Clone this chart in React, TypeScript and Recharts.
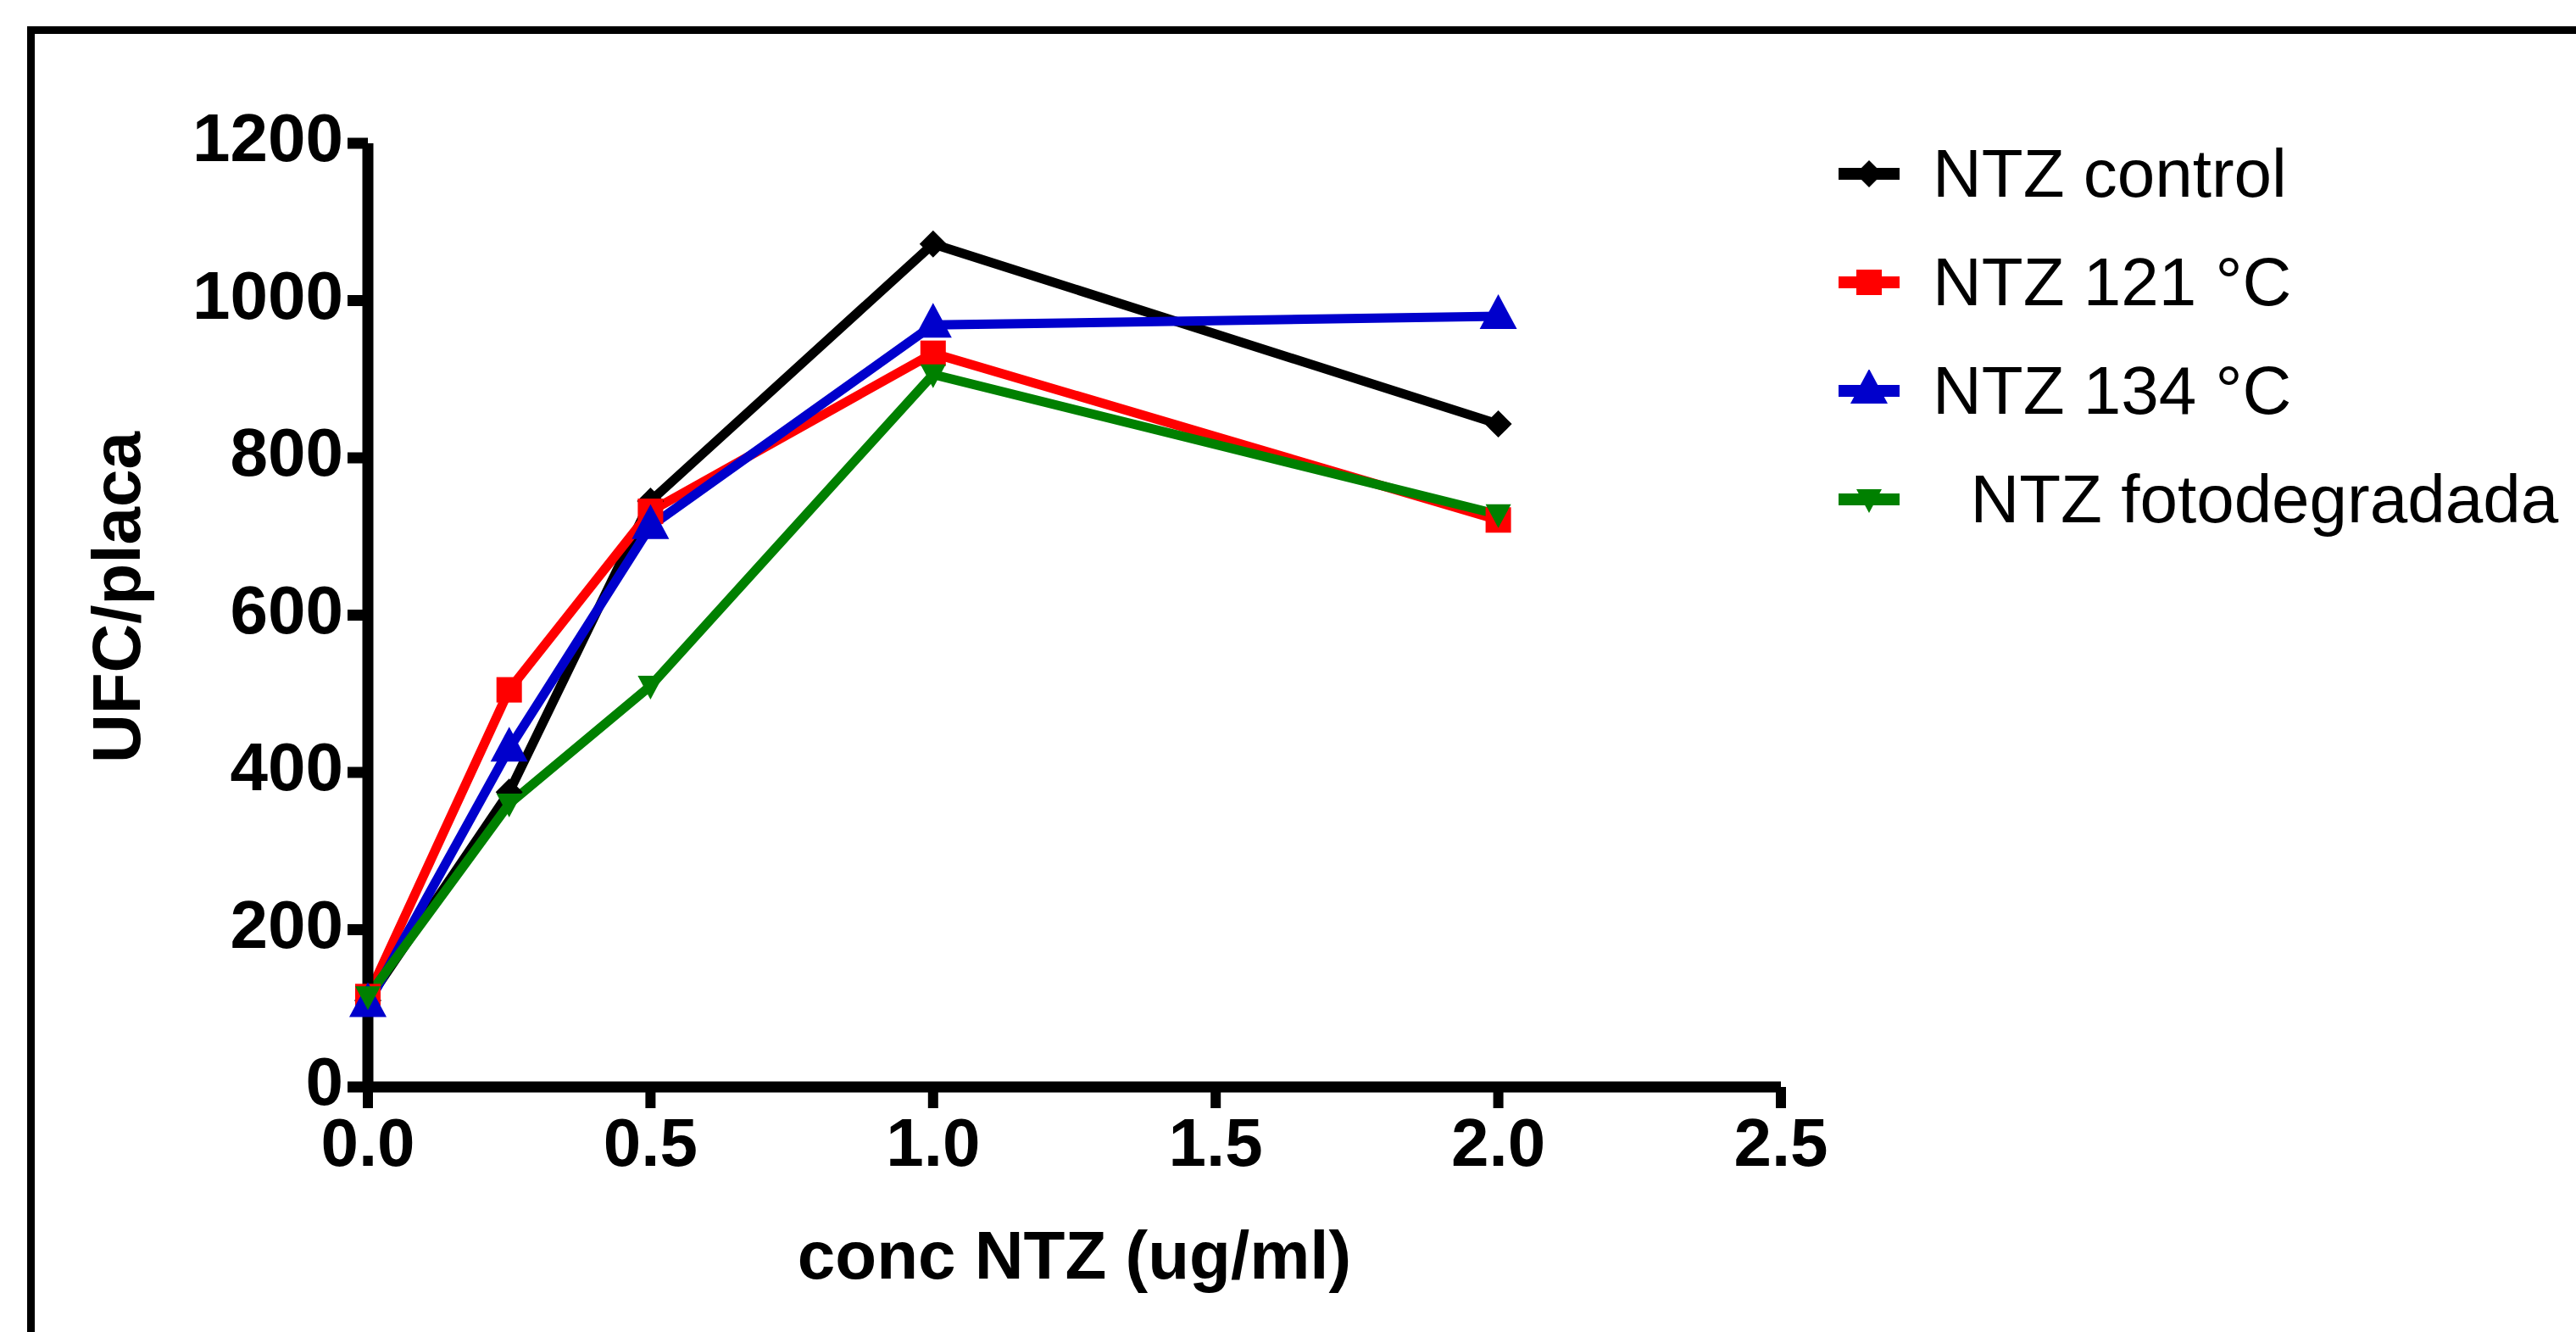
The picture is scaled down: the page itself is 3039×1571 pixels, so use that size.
import React from 'react';
import { LineChart, Line, XAxis, YAxis, Legend } from 'recharts';

// concentrations (ug/ml) and UFC/placa per series
const concentrations = [0, 0.25, 0.5, 1.0, 2.0];
const ntzControl = [110, 375, 745, 1072, 843];
const ntz121 = [115, 505, 732, 933, 721];
const ntz134 = [105, 430, 713, 969, 980];
const ntzFoto = [115, 360, 510, 906, 728];

const xTicks = [0, 0.5, 1.0, 1.5, 2.0, 2.5];
const yTicks = [0, 200, 400, 600, 800, 1000, 1200];

const FONT = '"Liberation Sans", Arial, Helvetica, sans-serif';

type Shape = 'diamond' | 'square' | 'triangle' | 'invTriangle';

const series: { key: string; name: string; color: string; shape: Shape }[] = [
  { key: 'control', name: 'NTZ control', color: '#000000', shape: 'diamond' },
  { key: 't121', name: 'NTZ 121 °C', color: '#ff0000', shape: 'square' },
  { key: 't134', name: 'NTZ 134 °C', color: '#0000cc', shape: 'triangle' },
  { key: 'foto', name: '  NTZ fotodegradada', color: '#008000', shape: 'invTriangle' },
];

const data = concentrations.map((c, i) => ({
  conc: c,
  control: ntzControl[i],
  t121: ntz121[i],
  t134: ntz134[i],
  foto: ntzFoto[i],
}));

const Marker = ({ shape, cx, cy, color }: { shape: Shape; cx: number; cy: number; color: string }) => {
  if (shape === 'diamond') {
    const r = 16;
    return <polygon points={`${cx},${cy - r} ${cx + r},${cy} ${cx},${cy + r} ${cx - r},${cy}`} fill={color} />;
  }
  if (shape === 'square') {
    return <rect x={cx - 15} y={cy - 15} width={30} height={30} fill={color} />;
  }
  if (shape === 'triangle') {
    return <polygon points={`${cx},${cy - 26} ${cx + 22},${cy + 15} ${cx - 22},${cy + 15}`} fill={color} />;
  }
  return <polygon points={`${cx - 15},${cy - 12} ${cx + 15},${cy - 12} ${cx},${cy + 16}`} fill={color} />;
};

const renderDot = (shape: Shape, color: string) => (props: any) => {
  const { cx, cy, index } = props;
  if (cx == null || cy == null) return <g key={`d-${index}`} />;
  return (
    <g key={`d-${index}`}>
      <Marker shape={shape} cx={cx} cy={cy} color={color} />
    </g>
  );
};

const XTick = (props: any) => {
  const { x, y, payload } = props;
  return (
    <text x={x} y={y} dy="0.71em" textAnchor="middle" fill="#000"
      style={{ fontFamily: FONT, fontSize: 80, fontWeight: 'bold' }}>
      {Number(payload.value).toFixed(1)}
    </text>
  );
};

const YTick = (props: any) => {
  const { x, y, payload } = props;
  return (
    <text x={x} y={y - 7} dy="0.355em" textAnchor="end" fill="#000"
      style={{ fontFamily: FONT, fontSize: 80, fontWeight: 'bold' }}>
      {payload.value}
    </text>
  );
};

const XTitle = (props: any) => {
  const vb = props.viewBox;
  return (
    <text x={vb.x + vb.width / 2} y={vb.y + 226} textAnchor="middle" fill="#000"
      style={{ fontFamily: FONT, fontSize: 80, fontWeight: 'bold' }}>
      conc NTZ (ug/ml)
    </text>
  );
};

const YTitle = (props: any) => {
  const vb = props.viewBox;
  const tx = vb.x - 169;
  const ty = vb.y + vb.height / 2 - 21;
  return (
    <text x={tx} y={ty} transform={`rotate(-90, ${tx}, ${ty})`} textAnchor="middle" fill="#000"
      style={{ fontFamily: FONT, fontSize: 80, fontWeight: 'bold' }}>
      UFC/placa
    </text>
  );
};

const LegendContent = () => (
  <div style={{ fontFamily: FONT, fontSize: 80, color: '#000' }}>
    {series.map((s) => (
      <div key={s.key} style={{ display: 'flex', alignItems: 'center', height: 128 }}>
        <svg width={72} height={50} style={{ marginLeft: 9, flex: 'none' }}>
          <line x1={0} x2={72} y1={25} y2={25} stroke={s.color} strokeWidth={14} />
          <Marker shape={s.shape} cx={36} cy={25} color={s.color} />
        </svg>
        <span style={{ marginLeft: 39, whiteSpace: 'pre', lineHeight: 'normal' }}>{s.name}</span>
      </div>
    ))}
  </div>
);

const App: React.FC = () => {
  return (
    <div style={{ position: 'absolute', left: 0, top: 0, width: 3039, height: 1571, background: '#fff', overflow: 'hidden' }}>
      <div style={{ position: 'absolute', left: 32, top: 31, width: 3100, height: 1600, border: '9px solid #000' }} />
      <div style={{ position: 'absolute', left: 0, top: 0 }}>
        <LineChart width={3039} height={1571} data={data}
          margin={{ top: 169, right: 938, bottom: 189, left: 334 }}>
          <XAxis type="number" dataKey="conc" domain={[0, 2.5]} ticks={xTicks} height={100}
            axisLine={{ stroke: '#000', strokeWidth: 13 }}
            tickLine={{ stroke: '#000', strokeWidth: 12 }}
            tickSize={25} tickMargin={11} tick={<XTick />}
            label={<XTitle />} />
          <YAxis type="number" domain={[0, 1200]} ticks={yTicks} width={100}
            axisLine={{ stroke: '#000', strokeWidth: 13 }}
            tickLine={{ stroke: '#000', strokeWidth: 13 }}
            tickSize={24} tickMargin={5} tick={<YTick />}
            label={<YTitle />} />
          <Legend layout="vertical" align="center" verticalAlign="middle"
            wrapperStyle={{ left: 2160, top: 141, width: 880 }}
            content={() => <LegendContent />} />
          {series.map((s) => (
            <Line key={s.key} type="linear" dataKey={s.key} name={s.name}
              stroke={s.color} strokeWidth={11}
              dot={renderDot(s.shape, s.color)} activeDot={false}
              isAnimationActive={false} />
          ))}
        </LineChart>
      </div>
    </div>
  );
};

export default App;
